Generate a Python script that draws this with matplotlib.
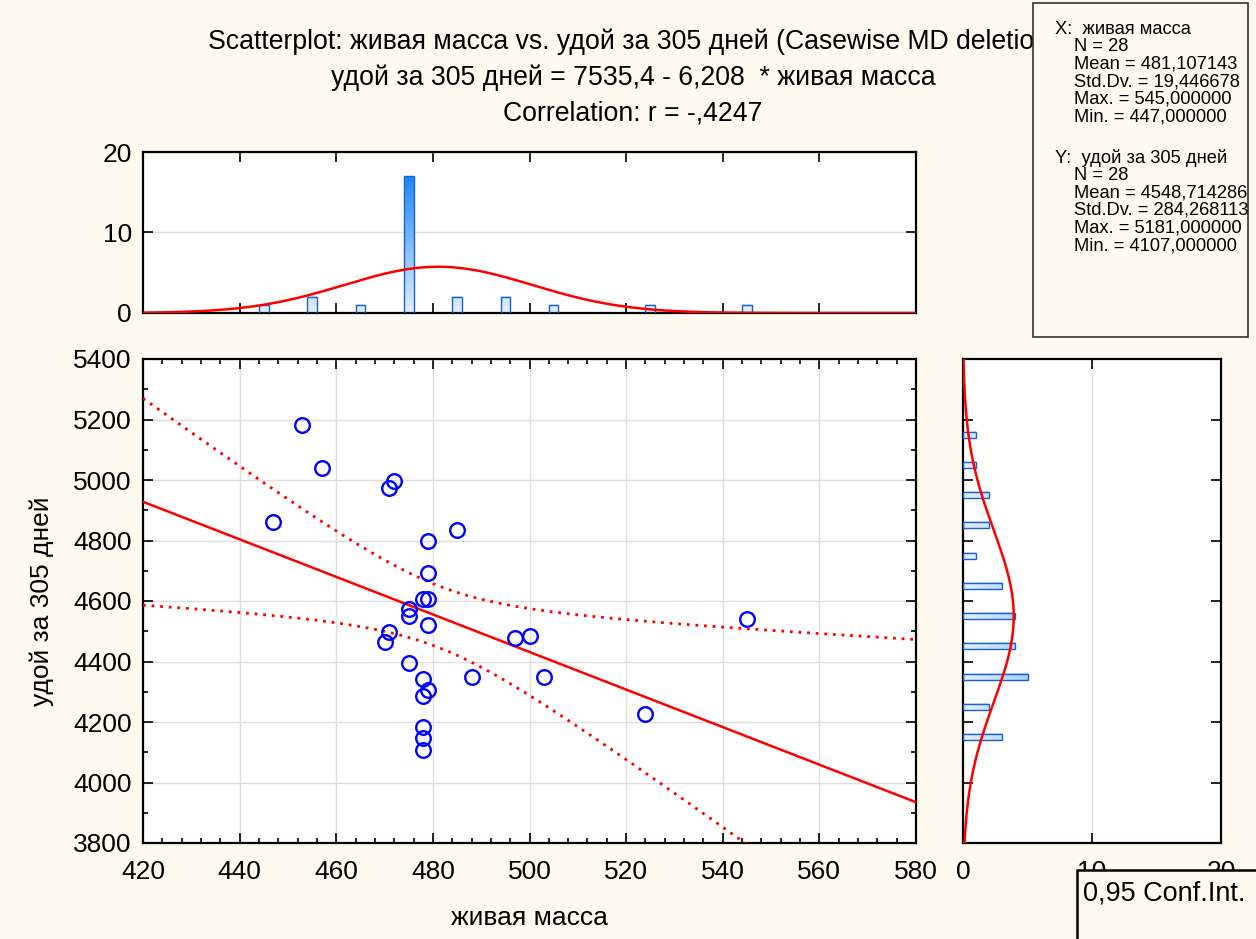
import numpy as np
import matplotlib
matplotlib.use("Agg")
import matplotlib.pyplot as plt
from matplotlib.patches import Rectangle
from matplotlib.colors import LinearSegmentedColormap
from matplotlib.ticker import MultipleLocator

plt.rcParams['font.family'] = ['Liberation Sans', 'DejaVu Sans']

# ---------------- data ----------------
mass = [453, 457, 447, 472, 471, 485, 479, 479, 478, 479, 475, 475, 479, 471,
        470, 475, 478, 479, 478, 478, 478, 478, 488, 497, 500, 503, 524, 545]
milk = [5181, 5040, 4861, 4997, 4974, 4835, 4798, 4693, 4607, 4607, 4574, 4550,
        4520, 4497, 4465, 4395, 4342, 4306, 4286, 4183, 4147, 4107, 4349, 4478,
        4484, 4349, 4226, 4540]
INTERCEPT = 7535.4
SLOPE = -6.208
T_CRIT = 2.056  # t(0.975, df=26)

x_edges = list(range(420, 581, 10))
y_edges = list(range(3800, 5401, 100))

title_lines = ["Scatterplot: живая масса vs. удой за 305 дней (Casewise MD deletion)",
               "удой за 305 дней = 7535,4 - 6,208  * живая масса",
               "Correlation: r = -,4247"]
stats_lines = [("X:  живая масса", 0), ("N = 28", 1), ("Mean = 481,107143", 1),
               ("Std.Dv. = 19,446678", 1), ("Max. = 545,000000", 1),
               ("Min. = 447,000000", 1), (None, 0),
               ("Y:  удой за 305 дней", 0), ("N = 28", 1), ("Mean = 4548,714286", 1),
               ("Std.Dv. = 284,268113", 1), ("Max. = 5181,000000", 1),
               ("Min. = 4107,000000", 1)]
xlabel = "живая масса"
ylabel = "удой за 305 дней"

# ---------------- setup ----------------
W, H = 1256, 939
BG = '#fffaf0'
FS = 19
fig = plt.figure(figsize=(W / 100, H / 100), dpi=100, facecolor=BG)

def px_axes(l, t, r, b):
    return fig.add_axes([l / W, 1 - b / H, (r - l) / W, (b - t) / H])

ax = px_axes(143, 359, 916, 843)
axt = px_axes(143, 152, 916, 313)
axr = px_axes(963, 359, 1221, 843)

def style(a):
    for s in a.spines.values():
        s.set_linewidth(1.6)
        s.set_color('black')
    a.tick_params(which='both', direction='in', top=True, right=True,
                  width=1.2, labelsize=FS, colors='black')
    a.tick_params(which='major', length=7)
    a.tick_params(which='minor', length=3.5)
    a.set_facecolor('white')
    a.set_axisbelow(True)

for a in (ax, axt, axr):
    style(a)

x = np.array(mass, float)
y = np.array(milk, float)
n = len(x)
mx, my = x.mean(), y.mean()
sx, sy = x.std(ddof=1), y.std(ddof=1)

# ---------------- scatter ----------------
ax.grid(True, color='#dedede', lw=1)
xx = np.linspace(420, 580, 400)
yhat = INTERCEPT + SLOPE * xx
resid = y - (INTERCEPT + SLOPE * x)
s = np.sqrt(np.sum(resid ** 2) / (n - 2))
Sxx = np.sum((x - mx) ** 2)
half = T_CRIT * s * np.sqrt(1 / n + (xx - mx) ** 2 / Sxx)
ax.plot(xx, yhat, color='red', lw=1.8, zorder=3)
ax.plot(xx, yhat + half, color='red', lw=2.0, ls=(0, (1, 2.1)), zorder=3)
ax.plot(xx, yhat - half, color='red', lw=2.0, ls=(0, (1, 2.1)), zorder=3)
ax.plot(x, y, 'o', mfc='none', mec='#0000ff', ms=10.5, mew=1.7, zorder=4)
ax.set_xlim(420, 580)
ax.set_ylim(3800, 5400)
ax.xaxis.set_major_locator(MultipleLocator(20))
ax.xaxis.set_minor_locator(MultipleLocator(4))
ax.yaxis.set_major_locator(MultipleLocator(200))
ax.yaxis.set_minor_locator(MultipleLocator(100))
ax.tick_params(axis='x', pad=12)
ax.tick_params(axis='y', pad=8)
ax.set_xlabel(xlabel, fontsize=FS, labelpad=16)
ax.set_ylabel(ylabel, fontsize=FS, labelpad=14)

# ---------------- histograms ----------------
cmap = LinearSegmentedColormap.from_list('g', ['#e2f0fd', '#1e86ff'])
EDGE = '#1a5fd0'

def bin_counts(vals, edges):
    edges = np.asarray(edges, float)
    idx = np.searchsorted(edges, vals, side='left') - 1
    return np.bincount(idx, minlength=len(edges) - 1)[:len(edges) - 1]

xc = bin_counts(x, x_edges)
yc = bin_counts(y, y_edges)
maxc = max(xc.max(), yc.max())

# top histogram (x)
xe = np.asarray(x_edges, float)
xcent = (xe[:-1] + xe[1:]) / 2
bw = 2.0
for c, cnt in zip(xcent, xc):
    if cnt == 0:
        continue
    g = np.linspace(0, cnt / maxc, 64).reshape(-1, 1)
    axt.imshow(g, extent=(c - bw / 2, c + bw / 2, 0, cnt), origin='lower',
               cmap=cmap, vmin=0, vmax=1, aspect='auto', zorder=2)
    axt.add_patch(Rectangle((c - bw / 2, 0), bw, cnt, fill=False, ec=EDGE, lw=1, zorder=3))
xg = np.linspace(420, 580, 400)
dens_x = n * 10 / (sx * np.sqrt(2 * np.pi)) * np.exp(-0.5 * ((xg - mx) / sx) ** 2)
axt.plot(xg, dens_x, color='red', lw=1.8, zorder=4)
axt.set_xlim(420, 580)
axt.set_ylim(0, 20)
axt.set_yticks([0, 10, 20])
axt.set_xticks(range(440, 561, 20))
axt.tick_params(axis='x', labelbottom=False)
axt.tick_params(axis='y', pad=8)
axt.yaxis.grid(True, color='#dedede', lw=1)

# right histogram (y)
ye = np.asarray(y_edges, float)
ycent = (ye[:-1] + ye[1:]) / 2
bh = 20.0
for c, cnt in zip(ycent, yc):
    if cnt == 0:
        continue
    g = np.linspace(0, cnt / maxc, 64).reshape(1, -1)
    axr.imshow(g, extent=(0, cnt, c - bh / 2, c + bh / 2), origin='lower',
               cmap=cmap, vmin=0, vmax=1, aspect='auto', zorder=2)
    axr.add_patch(Rectangle((0, c - bh / 2), cnt, bh, fill=False, ec=EDGE, lw=1, zorder=3))
yg = np.linspace(3800, 5400, 400)
dens_y = n * 100 / (sy * np.sqrt(2 * np.pi)) * np.exp(-0.5 * ((yg - my) / sy) ** 2)
axr.plot(dens_y, yg, color='red', lw=1.8, zorder=4)
axr.set_xlim(0, 20)
axr.set_ylim(3800, 5400)
axr.set_xticks([0, 10, 20])
axr.yaxis.set_major_locator(MultipleLocator(200))
axr.tick_params(axis='y', labelleft=False)
axr.tick_params(axis='x', pad=12)
axr.xaxis.grid(True, color='#dedede', lw=1)

# ---------------- titles ----------------
for i, t in enumerate(title_lines):
    fig.text(633 / W, 1 - (42 + 36 * i) / H, t, ha='center', va='center',
             fontsize=19.2, zorder=1)

# ---------------- stats box ----------------
box = Rectangle((1033 / W, 1 - 337 / H), (1248 - 1033) / W, (337 - 3) / H,
                transform=fig.transFigure, fc=BG, ec='#333333', lw=1.2, zorder=10)
fig.add_artist(box)
yy = 29
for txt, indent in stats_lines:
    if txt is not None:
        tt = fig.text((1055 + 19 * indent) / W, 1 - yy / H, txt, ha='left', va='center',
                      fontsize=13.2, zorder=11)
        tt.set_clip_path(box)
    yy += 17.6 if txt is not None else 23

# ---------------- conf int box ----------------
cbox = Rectangle((1077 / W, -0.05), (1270 - 1077) / W, 0.05 + (939 - 870) / H,
                 transform=fig.transFigure, fc=BG, ec='black', lw=1.8, zorder=10)
fig.add_artist(cbox)
fig.text(1083 / W, 1 - 893 / H, "0,95 Conf.Int.", ha='left', va='center',
         fontsize=19.5, zorder=11)

fig.savefig('out.png', dpi=100, facecolor=BG)
